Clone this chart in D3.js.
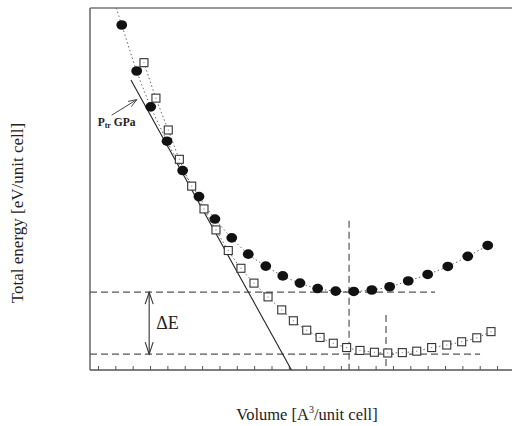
<!DOCTYPE html>
<html>
<head>
<meta charset="utf-8">
<script src="https://cdn.jsdelivr.net/npm/d3@7"></script>
<style>
  html, body { margin: 0; padding: 0; background: #fff; }
  svg { display: block; }
  text { font-family: "Liberation Serif", "DejaVu Serif", serif; fill: #222; }
</style>
</head>
<body>
<svg id="chart" width="515" height="426"></svg>
<script>
// Phase A (filled circles): volume and total energy
const volA = [2.37, 3.23, 4.04, 4.98, 5.88, 6.82, 7.74, 8.71, 9.66, 10.67, 11.65,
              12.64, 13.66, 14.70, 15.74, 16.78, 17.81, 18.88, 20.00, 21.16, 22.31, 23.46];
const enA  = [9.53, 8.26, 7.27, 6.32, 5.51, 4.79, 4.17, 3.65, 3.20, 2.87, 2.60,
              2.40, 2.25, 2.18, 2.17, 2.21, 2.30, 2.46, 2.64, 2.86, 3.14, 3.44];

// Phase B (open squares): volume and total energy
const volB = [3.65, 4.34, 5.05, 5.69, 6.40, 7.11, 7.80, 8.51, 9.24, 9.99, 10.80,
              11.59, 12.26, 13.03, 13.80, 14.56, 15.33, 16.10, 16.93, 17.70, 18.54,
              19.37, 20.23, 21.10, 21.96, 22.83, 23.65];
const enB  = [8.49, 7.51, 6.63, 5.82, 5.08, 4.45, 3.87, 3.30, 2.81, 2.40, 2.02,
              1.66, 1.36, 1.10, 0.90, 0.74, 0.62, 0.54, 0.49, 0.47, 0.48,
              0.52, 0.62, 0.69, 0.78, 0.89, 1.06];

// Fitted equilibrium points of each phase: volume V0 and energy E0
const eqVol = [15.47, 17.60];
const eqEn  = [2.15, 0.44];
// extent of the horizontal reference lines at E0
const eqLineEnd = [20.42, 23.02];
// top of the vertical reference lines at V0
const eqLineTop = [4.12, 1.52];

// Common tangent between the two curves (slope = -P_tr)
const tangentVol = [2.90, 12.15];
const tangentEn  = [8.01, 0.00];

// Volume tick positions (unlabelled)
const volTicks = d3.range(1, 25);

const svg = d3.select("#chart");
const x = d3.scaleLinear().domain([0.54, 24.86]).range([90, 512]);
const y = d3.scaleLinear().domain([0, 10]).range([370, 8]);

const grey = "#555";

// frame: top edge, left axis, bottom axis with inward ticks
svg.append("line").attr("x1", x(0.54)).attr("x2", x(24.86)).attr("y1", y(10)).attr("y2", y(10))
  .attr("stroke", "#777").attr("stroke-width", 1.6);
svg.append("line").attr("x1", x(0.54)).attr("x2", x(0.54)).attr("y1", y(10)).attr("y2", y(0))
  .attr("stroke", "#666").attr("stroke-width", 1.5);

const xAxis = d3.axisBottom(x).tickValues(volTicks).tickSize(-4).tickFormat("");
const gx = svg.append("g").attr("transform", `translate(0,${y(0)})`).call(xAxis);
gx.select(".domain").attr("stroke", "#555").attr("stroke-width", 1.5)
  .attr("d", `M${x(0.54)},0H${x(24.86)}`);
gx.selectAll(".tick line").attr("stroke", "#555").attr("stroke-width", 1);

const dashed = "7,4";

// horizontal reference lines at E0
eqEn.forEach((e, i) => {
  svg.append("line").attr("x1", x(0.54)).attr("x2", x(eqLineEnd[i]))
    .attr("y1", y(e)).attr("y2", y(e))
    .attr("stroke", grey).attr("stroke-width", 1.2).attr("stroke-dasharray", dashed);
});
// vertical reference lines at V0
eqVol.forEach((v, i) => {
  svg.append("line").attr("x1", x(v)).attr("x2", x(v))
    .attr("y1", y(eqLineTop[i])).attr("y2", y(0))
    .attr("stroke", grey).attr("stroke-width", 1.2).attr("stroke-dasharray", dashed);
});

// common tangent
svg.append("line")
  .attr("x1", x(tangentVol[0])).attr("y1", y(tangentEn[0]))
  .attr("x2", x(tangentVol[1])).attr("y2", y(tangentEn[1]))
  .attr("stroke", "#222").attr("stroke-width", 1.1);

const ptsA = volA.map((v, i) => [v, enA[i]]);
const ptsB = volB.map((v, i) => [v, enB[i]]);

// dotted guide curves; phase A curve continues up to the frame
const slopeA = (enA[1] - enA[0]) / (volA[1] - volA[0]);
const topV = volA[0] + (10 - enA[0]) / slopeA;
const line = d3.line().x(d => x(d[0])).y(d => y(d[1])).curve(d3.curveCatmullRom);
svg.append("path").datum([[topV, 10], ...ptsA]).attr("d", line)
  .attr("fill", "none").attr("stroke", "#666").attr("stroke-width", 1)
  .attr("stroke-dasharray", "1.5,2.5");
svg.append("path").datum(ptsB).attr("d", line)
  .attr("fill", "none").attr("stroke", "#666").attr("stroke-width", 1)
  .attr("stroke-dasharray", "1.5,2.5");

// phase B markers
svg.append("g").selectAll("rect").data(ptsB).join("rect")
  .attr("x", d => x(d[0]) - 4).attr("y", d => y(d[1]) - 4)
  .attr("width", 8).attr("height", 8)
  .attr("fill", "#fff").attr("stroke", "#333").attr("stroke-width", 1.1);
svg.append("g").selectAll("circle").data(ptsB).join("circle")
  .attr("cx", d => x(d[0])).attr("cy", d => y(d[1])).attr("r", 0.7).attr("fill", "#999");

// phase A markers
svg.append("g").selectAll("ellipse").data(ptsA).join("ellipse")
  .attr("cx", d => x(d[0])).attr("cy", d => y(d[1]))
  .attr("rx", 5.4).attr("ry", 4.8).attr("fill", "#111");

// ΔE double arrow between the two E0 levels
const arrowX = x(3.95);
const ya = y(eqEn[0]), yb = y(eqEn[1]);
svg.append("line").attr("x1", arrowX).attr("x2", arrowX).attr("y1", ya).attr("y2", yb)
  .attr("stroke", "#333").attr("stroke-width", 1.1);
svg.append("path").attr("d",
  `M${arrowX - 4},${ya + 12}L${arrowX},${ya}L${arrowX + 4},${ya + 12}` +
  `M${arrowX - 4},${yb - 12}L${arrowX},${yb}L${arrowX + 4},${yb - 12}`)
  .attr("fill", "none").attr("stroke", "#333").attr("stroke-width", 1.1);
svg.append("text").attr("x", arrowX + 7).attr("y", (ya + yb) / 2 + 6)
  .attr("font-size", 18).text("ΔE");

// transition pressure label with arrow pointing at the tangent
const tip = [x(3.24), y(7.47)];
const tail = [x(1.79), y(7.04)];
svg.append("line").attr("x1", tail[0]).attr("y1", tail[1]).attr("x2", tip[0]).attr("y2", tip[1])
  .attr("stroke", "#444").attr("stroke-width", 1);
{
  const ang = Math.atan2(tip[1] - tail[1], tip[0] - tail[0]);
  const L = 9, a = 0.35;
  const p1 = [tip[0] - L * Math.cos(ang - a), tip[1] - L * Math.sin(ang - a)];
  const p2 = [tip[0] - L * Math.cos(ang + a), tip[1] - L * Math.sin(ang + a)];
  svg.append("path").attr("d", `M${p1}L${tip}L${p2}`)
    .attr("fill", "none").attr("stroke", "#444").attr("stroke-width", 1);
}
const lab = svg.append("text").attr("x", x(0.98)).attr("y", y(6.74))
  .attr("font-size", 11.5).attr("font-weight", "bold");
lab.append("tspan").text("P");
lab.append("tspan").attr("font-size", 8).attr("dy", 2).text("tr");
lab.append("tspan").attr("dy", -2).text(" GPa");

// axis titles
const xt = svg.append("text").attr("x", 307).attr("y", 420).attr("text-anchor", "middle")
  .attr("font-size", 16.5);
xt.append("tspan").text("Volume [A");
xt.append("tspan").attr("font-size", 10).attr("dy", -7).text("3");
xt.append("tspan").attr("dy", 7).text("/unit cell]");

svg.append("text").attr("transform", "translate(23,213) rotate(-90)")
  .attr("text-anchor", "middle").attr("font-size", 17)
  .text("Total energy [eV/unit cell]");
</script>
</body>
</html>
